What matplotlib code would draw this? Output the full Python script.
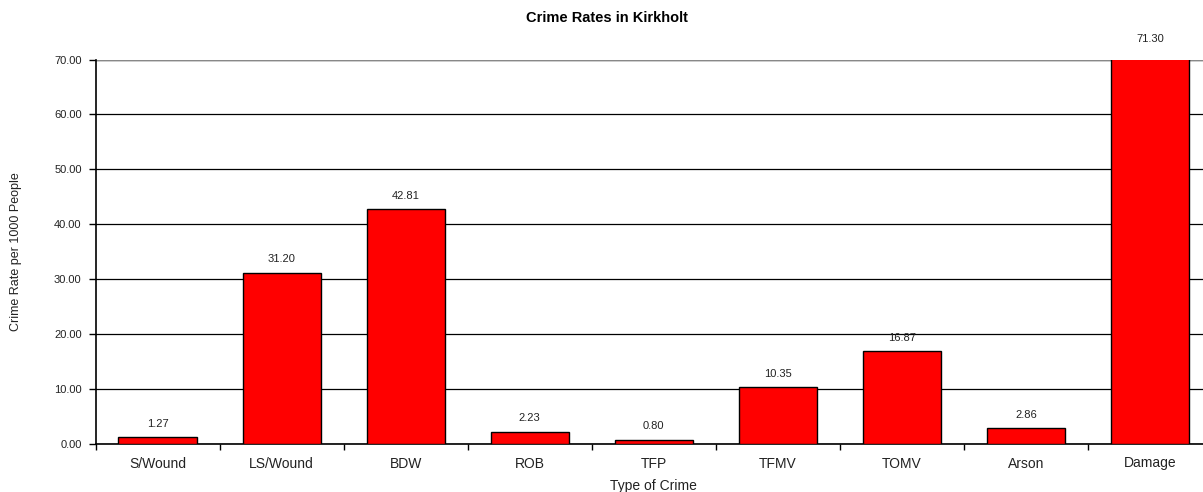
import numpy as np
import matplotlib
matplotlib.use("Agg")
import matplotlib.pyplot as plt

##Data##
crime_types = ['S/Wound', 'LS/Wound', 'BDW', 'ROB', 'TFP', 'TFMV', 'TOMV', 'Arson', 'Damage']
crime_rates = [1.27, 31.20, 42.81, 2.23, 0.80, 10.35, 16.87, 2.86, 71.30]
y_ticks = [0, 10, 20, 30, 40, 50, 60, 70]

plt.rcParams['font.family'] = ['Liberation Sans', 'DejaVu Sans']

fig = plt.figure(figsize=(12.03, 4.92), dpi=100)
# right edge of the plot area runs past the picture, as in the original
ax = fig.add_axes([95.5 / 1203, 48 / 492, (1212 - 95.5) / 1203, (444 - 59.5) / 492])

x = np.arange(len(crime_types))
bars = ax.bar(x, crime_rates, width=0.63, color='#ff0000', edgecolor='black',
              linewidth=1.0, zorder=3)

for xi, val in zip(x, crime_rates):
    ax.annotate('%.2f' % val, (xi, val), xytext=(0, 6), textcoords='offset points',
                ha='center', va='bottom', fontsize=8, color='#222222',
                annotation_clip=False)

ax.set_xlim(-0.5, len(crime_types) - 0.5)
ax.set_ylim(0, 70)
ax.set_yticks(y_ticks)
ax.set_yticklabels(['%.2f' % v for v in y_ticks], fontsize=8, color='#222222')
ax.yaxis.grid(True, color='black', linewidth=0.9, zorder=0)
ax.set_axisbelow(True)
ax.axhline(70, color='#888888', linewidth=1.0, zorder=1)

# ticks sit between categories, labels in the middle
ax.set_xticks(np.arange(len(crime_types) + 1) - 0.5)
ax.set_xticklabels([])
ax.set_xticks(x, minor=True)
ax.set_xticklabels(crime_types, minor=True, fontsize=10, color='#222222')
ax.tick_params(axis='x', which='minor', length=0, pad=9)
ax.tick_params(axis='x', which='major', length=4, width=1.0, direction='out')
ax.tick_params(axis='y', length=5, width=1.0, direction='out', pad=5)

for s in ['top', 'right']:
    ax.spines[s].set_visible(False)
ax.spines['left'].set_linewidth(1.2)
ax.spines['bottom'].set_linewidth(1.2)

ax.set_xlabel('Type of Crime', fontsize=10, labelpad=6, color='#222222')
fig.text(16 / 1203, 1 - 252 / 492, 'Crime Rate per 1000 People', rotation=90,
         ha='center', va='center', fontsize=9, color='#222222')
fig.text(607 / 1203, 1 - 18 / 492, 'Crime Rates in Kirkholt', ha='center', va='center',
         fontsize=10.5, fontweight='bold')

fig.savefig('out.png', dpi=100)
